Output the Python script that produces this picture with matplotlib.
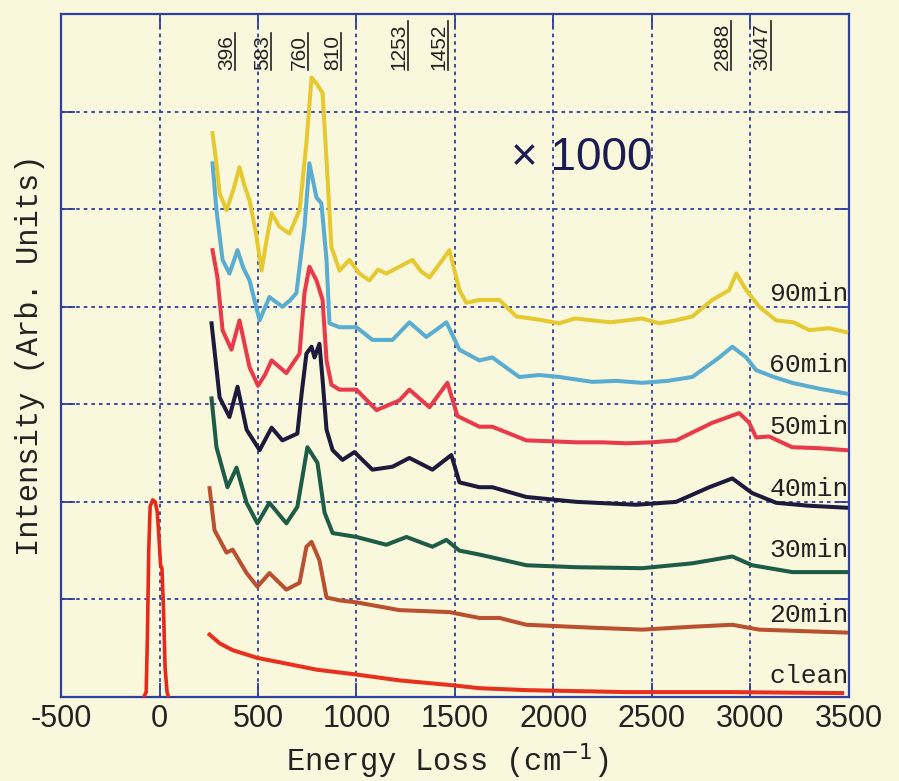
import matplotlib.pyplot as plt
import matplotlib.transforms as mtransforms

plt.rcParams['axes.unicode_minus'] = False

# HREELS spectra after exposure (energy loss in cm-1, offset intensity)
elastic_x = [-80, -68, -62, -55, -48, -35, -22, -12, -5, 5, 12, 20, 28, 38, 45]
elastic_y = [0.0, 0.05, 0.6, 1.5, 1.95, 2.02, 2.0, 1.9, 1.7, 1.35, 1.32, 0.9, 0.3, 0.05, 0.0]

clean_x = [254, 305, 371, 497, 624, 797, 1000, 1218, 1487, 1624, 1863, 2371, 2878, 3467]
clean_y = [0.64, 0.55, 0.48, 0.40, 0.35, 0.28, 0.23, 0.17, 0.12, 0.09, 0.07, 0.05, 0.05, 0.04]

min20_x = [254, 279, 340, 371, 442, 497, 558, 644, 711, 746, 772, 812, 848, 914, 1000,
           1218, 1472, 1624, 1726, 1863, 2198, 2452, 2706, 2909, 3046, 3487]
min20_y = [2.14, 1.71, 1.48, 1.51, 1.27, 1.13, 1.27, 1.10, 1.17, 1.54, 1.59, 1.40, 1.02, 0.99, 0.97,
           0.89, 0.87, 0.81, 0.81, 0.74, 0.71, 0.69, 0.72, 0.74, 0.69, 0.66]

min30_x = [264, 289, 345, 391, 442, 497, 558, 644, 700, 751, 802, 838, 879, 1000, 1152,
           1254, 1386, 1457, 1523, 1624, 1690, 1863, 2117, 2452, 2706, 2909, 3010, 3213, 3487]
min30_y = [3.06, 2.56, 2.15, 2.35, 1.99, 1.78, 1.99, 1.78, 1.95, 2.56, 2.40, 1.89, 1.68, 1.64, 1.56,
           1.64, 1.54, 1.61, 1.50, 1.46, 1.43, 1.35, 1.33, 1.32, 1.37, 1.44, 1.35, 1.28, 1.28]

min40_x = [264, 305, 355, 396, 442, 508, 569, 624, 700, 721, 746, 772, 787, 812, 828, 848,
           879, 929, 990, 1081, 1183, 1269, 1386, 1482, 1523, 1624, 1690, 1863, 2117, 2421,
           2624, 2792, 2909, 3010, 3132, 3300, 3487]
min40_y = [3.83, 3.07, 2.87, 3.18, 2.74, 2.53, 2.76, 2.63, 2.70, 3.10, 3.52, 3.59, 3.48, 3.62, 3.25, 2.74,
           2.53, 2.43, 2.51, 2.33, 2.36, 2.45, 2.33, 2.48, 2.20, 2.15, 2.15, 2.05, 2.00, 1.97,
           2.00, 2.15, 2.24, 2.09, 1.99, 1.96, 1.94]

min50_x = [269, 294, 320, 365, 406, 457, 500, 535, 569, 644, 711, 736, 761, 797, 828, 848,
           873, 914, 1000, 1102, 1218, 1269, 1371, 1462, 1513, 1624, 1690, 1863, 2000, 2117,
           2250, 2371, 2500, 2624, 2807, 2944, 2995, 3030, 3096, 3213, 3350, 3487]
min50_y = [4.58, 4.30, 3.76, 3.56, 3.86, 3.38, 3.19, 3.30, 3.45, 3.32, 3.52, 4.14, 4.41, 4.27, 4.07, 3.45,
           3.20, 3.15, 3.15, 2.94, 3.04, 3.15, 2.97, 3.22, 2.88, 2.77, 2.77, 2.63, 2.62, 2.61,
           2.61, 2.60, 2.61, 2.63, 2.81, 2.91, 2.81, 2.66, 2.67, 2.56, 2.55, 2.53]

min60_x = [269, 289, 320, 355, 396, 425, 457, 508, 558, 590, 624, 660, 695, 736, 761, 797,
           822, 848, 863, 914, 1000, 1081, 1183, 1269, 1355, 1457, 1523, 1624, 1690, 1827,
           1930, 2030, 2198, 2320, 2452, 2580, 2706, 2843, 2909, 2980, 3030, 3120, 3213, 3350, 3487]
min60_y = [5.47, 4.99, 4.48, 4.34, 4.58, 4.40, 4.27, 3.86, 4.10, 4.05, 4.00, 4.06, 4.14, 4.82, 5.47, 5.12,
           5.06, 4.48, 3.83, 3.79, 3.79, 3.66, 3.66, 3.84, 3.69, 3.84, 3.56, 3.45, 3.48, 3.28,
           3.30, 3.28, 3.23, 3.24, 3.22, 3.24, 3.28, 3.48, 3.59, 3.48, 3.35, 3.28, 3.22, 3.16, 3.11]

min90_x = [269, 290, 305, 340, 375, 406, 430, 457, 490, 518, 545, 569, 609, 660, 711, 746,
           772, 800, 828, 848, 873, 914, 964, 1015, 1066, 1110, 1152, 1218, 1284, 1330, 1371,
           1437, 1472, 1523, 1558, 1624, 1726, 1812, 1920, 2030, 2110, 2198, 2290, 2371, 2450,
           2538, 2620, 2706, 2807, 2893, 2929, 2980, 3046, 3132, 3220, 3300, 3400, 3487]
min90_y = [5.78, 5.45, 5.16, 4.99, 5.20, 5.43, 5.25, 5.09, 4.75, 4.37, 4.70, 4.96, 4.82, 4.75, 4.99, 5.68,
           6.35, 6.28, 6.19, 5.50, 4.61, 4.37, 4.48, 4.34, 4.27, 4.38, 4.34, 4.41, 4.48, 4.36, 4.30,
           4.48, 4.58, 4.17, 4.04, 4.07, 4.07, 3.90, 3.87, 3.83, 3.88, 3.86, 3.84, 3.86, 3.88,
           3.83, 3.86, 3.90, 4.07, 4.17, 4.34, 4.17, 4.00, 3.86, 3.84, 3.76, 3.78, 3.74]

series = [
    ("clean", clean_x, clean_y, "#e8301e", 0.14),
    ("20min", min20_x, min20_y, "#b9502f", 0.77),
    ("30min", min30_x, min30_y, "#1f5c48", 1.43),
    ("40min", min40_x, min40_y, "#1e1a3c", 2.06),
    ("50min", min50_x, min50_y, "#e83a4a", 2.70),
    ("60min", min60_x, min60_y, "#5aadd0", 3.33),
    ("90min", min90_x, min90_y, "#e6c930", 4.06),
]

peak_labels = ["396", "583", "760", "810", "1253", "1452", "2888", "3047"]
peak_label_x = [340, 523, 711, 878, 1218, 1421, 2858, 3061]

fondo = "#f9f8dc"
azul = "#2f3f9e"
fonte_ticks = ['Liberation Sans Narrow', 'Liberation Sans', 'DejaVu Sans']
fonte_mono = ['Liberation Mono', 'DejaVu Sans Mono']

fig = plt.figure(figsize=(8.99, 7.81), dpi=100, facecolor=fondo)
ax = fig.add_axes([0.068, 0.1076, 0.876, 0.8744], facecolor=fondo)

ax.plot(elastic_x, elastic_y, color="#e82818", lw=2.6, zorder=3)
for nome, xs, ys, cor, ylab in series:
    ax.plot(xs, ys, color=cor, lw=2.9, zorder=3)
    ax.text(3500, ylab, nome, ha='right', va='baseline', fontsize=19,
            family=fonte_mono, color="#222222", zorder=4)

ax.set_xlim(-500, 3500)
ax.set_ylim(0, 7)
ax.set_xticks(range(-500, 3501, 500))
ax.set_xticklabels([str(v) for v in range(-500, 3501, 500)],
                   fontsize=22, family=fonte_ticks, color="#222222")
ax.set_yticks(range(0, 8))
ax.set_yticklabels([])
ax.tick_params(direction='in', length=10, width=1.3, color=azul,
               top=True, right=True, pad=5)
ax.grid(True, color=azul, linestyle=(0, (2, 2.2)), lw=1.3)
for s in ax.spines.values():
    s.set_color(azul)
    s.set_linewidth(1.6)

ax.set_xlabel("Energy Loss (cm$^{-1}$)", fontsize=22, family=fonte_mono, color="#222222")
ax.xaxis.set_label_coords(0.49, -0.065)
ax.set_ylabel("Intensity (Arb. Units)", fontsize=22, family=fonte_mono, color="#222222")
ax.yaxis.set_label_coords(-0.02, 0.5)

# rotated peak assignments with a rule beside each
trans = mtransforms.blended_transform_factory(ax.transData, ax.transAxes)
for lab, xp in zip(peak_labels, peak_label_x):
    ax.text(xp, 0.918, lab, rotation=90, ha='center', va='bottom', fontsize=15,
            family=fonte_ticks, color="#222222", transform=trans, zorder=4)
    ax.plot([xp + 45, xp + 45], [0.918, 0.918 + len(lab) * 0.018], color="#222222",
            lw=1.2, transform=trans, clip_on=False, zorder=4)

ax.text(2142, 5.52, "× 1000", ha='center', va='center', fontsize=33,
        family=fonte_ticks, color="#1c1c55", zorder=4)

fig.savefig("out.png", dpi=100, facecolor=fondo)
